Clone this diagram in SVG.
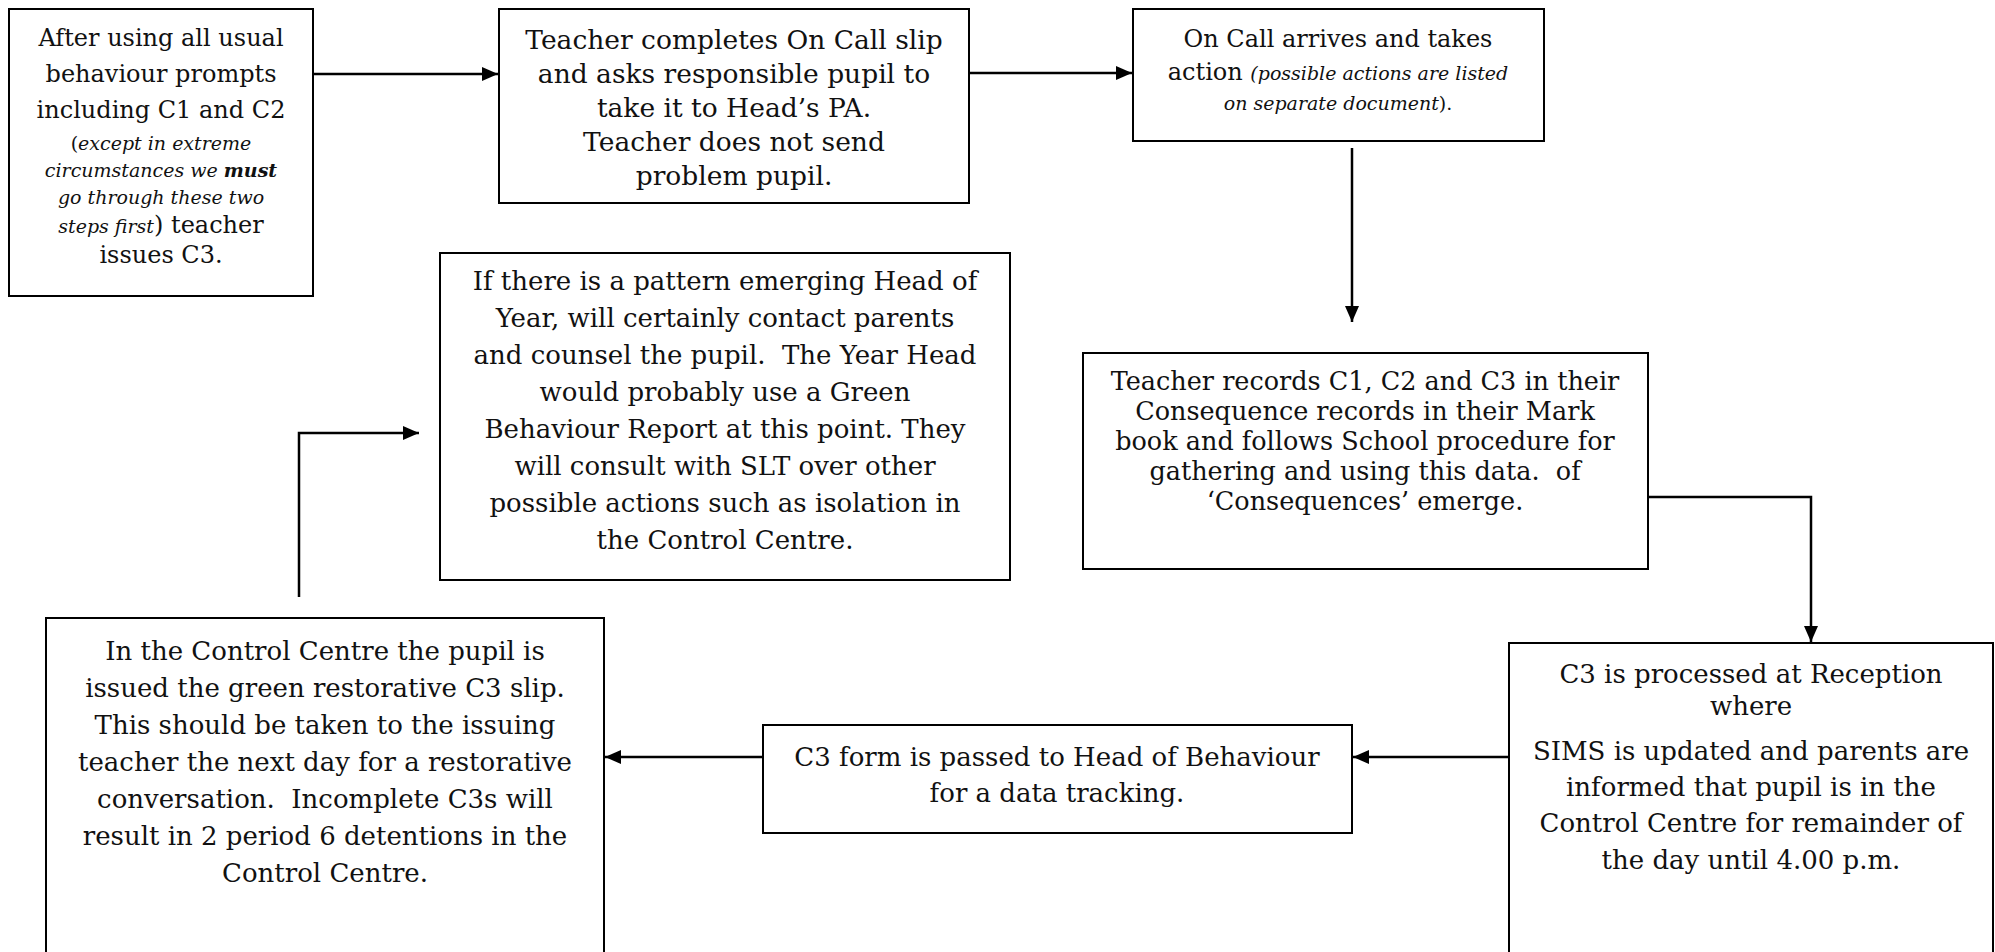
<svg xmlns="http://www.w3.org/2000/svg" width="1995" height="952" viewBox="0 0 1995 952">
<style>
.box{fill:#fff;stroke:#000;stroke-width:2}
.t{font-family:"DejaVu Serif","Liberation Serif",serif;fill:#111;text-anchor:middle}
.s24{font-size:24px}
.s25{font-size:25.5px}
.s26{font-size:26px}
.s27{font-size:26.5px}
.it{font-style:italic;font-size:19px}
.up{font-style:normal;font-size:19px}
.bi{font-weight:bold;font-style:italic}
.c{fill:none;stroke:#000;stroke-width:2.5}
</style>
<defs>
<marker id="ah" markerUnits="userSpaceOnUse" markerWidth="16" markerHeight="14" refX="16" refY="7" orient="auto">
<path d="M0,0 L16,7 L0,14 z" fill="#000"/>
</marker>
</defs>
<rect width="1995" height="952" fill="#fff"/>
<g id="connectors">
<line class="c" x1="313" y1="74" x2="498" y2="74" marker-end="url(#ah)"/>
<line class="c" x1="969" y1="73" x2="1132" y2="73" marker-end="url(#ah)"/>
<line class="c" x1="1352" y1="148" x2="1352" y2="322" marker-end="url(#ah)"/>
<polyline class="c" points="1648,497 1811,497 1811,642" marker-end="url(#ah)"/>
<line class="c" x1="1509" y1="757" x2="1353" y2="757" marker-end="url(#ah)"/>
<line class="c" x1="763" y1="757" x2="605" y2="757" marker-end="url(#ah)"/>
<polyline class="c" points="299,597 299,433 419,433" marker-end="url(#ah)"/>
</g>
<g id="n1">
<rect class="box" x="9" y="9" width="304" height="287"/>
<text class="t s24" x="161" y="46">After using all usual</text>
<text class="t s24" x="161" y="82">behaviour prompts</text>
<text class="t s24" x="161" y="118">including C1 and C2</text>
<text class="t" x="161" y="150"><tspan class="up">(</tspan><tspan class="it">except in extreme</tspan></text>
<text class="t it" x="161" y="177">circumstances we <tspan class="bi">must</tspan></text>
<text class="t it" x="161" y="204">go through these two</text>
<text class="t" x="161" y="233"><tspan class="it">steps first</tspan><tspan class="s24">) teacher</tspan></text>
<text class="t s24" x="161" y="263">issues C3.</text>
</g>
<g id="n2">
<rect class="box" x="499" y="9" width="470" height="194"/>
<text class="t s27" x="734" y="49">Teacher completes On Call slip</text>
<text class="t s27" x="734" y="83">and asks responsible pupil to</text>
<text class="t s27" x="734" y="117">take it to Head’s PA.</text>
<text class="t s27" x="734" y="151">Teacher does not send</text>
<text class="t s27" x="734" y="185">problem pupil.</text>
</g>
<g id="n3">
<rect class="box" x="1133" y="9" width="411" height="132"/>
<text class="t s24" x="1338" y="47">On Call arrives and takes</text>
<text class="t" x="1338" y="80"><tspan class="s24">action </tspan><tspan class="it">(possible actions are listed</tspan></text>
<text class="t" x="1338" y="110"><tspan class="it">on separate document</tspan><tspan class="up">).</tspan></text>
</g>
<g id="n4">
<rect class="box" x="1083" y="353" width="565" height="216"/>
<text class="t s25" x="1365" y="390">Teacher records C1, C2 and C3 in their</text>
<text class="t s25" x="1365" y="420">Consequence records in their Mark</text>
<text class="t s25" x="1365" y="450">book and follows School procedure for</text>
<text class="t s25" x="1365" y="480">gathering and using this data. &#160;of</text>
<text class="t s25" x="1365" y="510">‘Consequences’ emerge.</text>
</g>
<g id="n5">
<rect class="box" x="1509" y="643" width="484" height="320"/>
<text class="t s26" x="1751" y="683">C3 is processed at Reception</text>
<text class="t s26" x="1751" y="715">where</text>
<text class="t s26" x="1751" y="760">SIMS is updated and parents are</text>
<text class="t s26" x="1751" y="796">informed that pupil is in the</text>
<text class="t s26" x="1751" y="832">Control Centre for remainder of</text>
<text class="t s26" x="1751" y="869">the day until 4.00 p.m.</text>
</g>
<g id="n6">
<rect class="box" x="763" y="725" width="589" height="108"/>
<text class="t s26" x="1057" y="766">C3 form is passed to Head of Behaviour</text>
<text class="t s26" x="1057" y="802">for a data tracking.</text>
</g>
<g id="n7">
<rect class="box" x="46" y="618" width="558" height="345"/>
<text class="t s26" x="325" y="660">In the Control Centre the pupil is</text>
<text class="t s26" x="325" y="697">issued the green restorative C3 slip.</text>
<text class="t s26" x="325" y="734">This should be taken to the issuing</text>
<text class="t s26" x="325" y="771">teacher the next day for a restorative</text>
<text class="t s26" x="325" y="808">conversation. &#160;Incomplete C3s will</text>
<text class="t s26" x="325" y="845">result in 2 period 6 detentions in the</text>
<text class="t s26" x="325" y="882">Control Centre.</text>
</g>
<g id="n8">
<rect class="box" x="440" y="253" width="570" height="327"/>
<text class="t s26" x="725" y="290">If there is a pattern emerging Head of</text>
<text class="t s26" x="725" y="327">Year, will certainly contact parents</text>
<text class="t s26" x="725" y="364">and counsel the pupil. &#160;The Year Head</text>
<text class="t s26" x="725" y="401">would probably use a Green</text>
<text class="t s26" x="725" y="438">Behaviour Report at this point. They</text>
<text class="t s26" x="725" y="475">will consult with SLT over other</text>
<text class="t s26" x="725" y="512">possible actions such as isolation in</text>
<text class="t s26" x="725" y="549">the Control Centre.</text>
</g>
</svg>
